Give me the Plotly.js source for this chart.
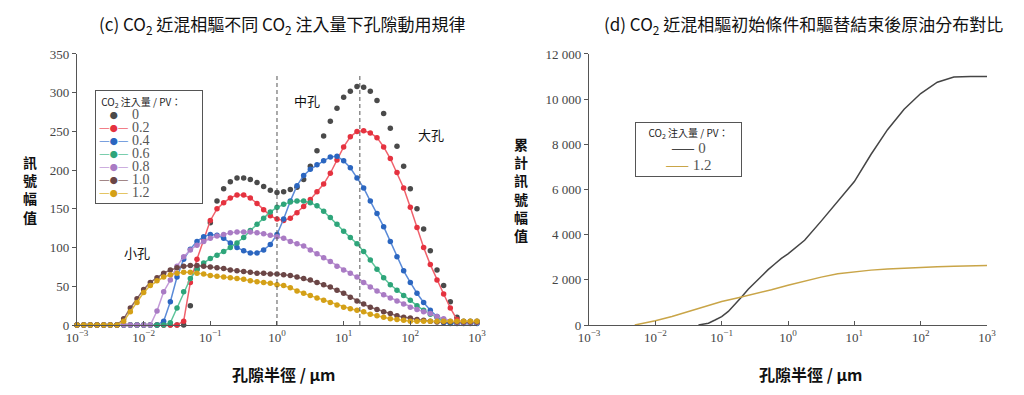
<!DOCTYPE html>
<html>
<head>
<meta charset="utf-8">
<script src="https://cdn.plot.ly/plotly-3.0.1.min.js"></script>
<style>html,body{margin:0;padding:0;background:#fff;}#chart{width:1024px;height:395px;}</style>
</head>
<body>
<div id="chart"></div>
<script>
// ---------- DATA ----------
// Panel (c): pore radius exponents (log10 of radius in µm)
const radiusExp = [-3.0,-2.9,-2.8,-2.7,-2.6,-2.5,-2.4,-2.3,-2.2,-2.1,-2.0,-1.9,-1.8,-1.7,-1.6,-1.5,-1.4,-1.3,-1.2,-1.1,
  -1.0,-0.9,-0.8,-0.7,-0.6,-0.5,-0.4,-0.3,-0.2,-0.1,0.0,0.1,0.2,0.3,0.4,0.5,0.6,0.7,0.8,0.9,
  1.0,1.1,1.2,1.3,1.4,1.5,1.6,1.7,1.8,1.9,2.0,2.1,2.2,2.3,2.4,2.5,2.6,2.7,2.8,2.9,3.0];

const injectionLabels = ['0','0.2','0.4','0.6','0.8','1.0','1.2'];

const signal_0 = [0,0,0,0,0,0,0,0,0,0,0,0,0,0,0,0,0,
  25,72,110,132,160,176,185,190,190,188,184,179,174,171,172,175,178,188,205,225,244,263,280,294,302,308,307,302,290,273,254,231,205,176,150,124,96,71,51,30,10,5,5,5];
const signal_02 = [0,0,0,0,0,0,0,0,0,0,0,0,0,0,0,0,
  5,55,85,110,135,150,158,164,168,168,164,157,149,141,137,135,138,145,153,162,172,182,196,213,230,243,250,251,248,242,230,215,197,177,152,126,100,78,58,40,22,7,3,3,3];
const signal_04 = [0,0,0,0,0,0,0,0,0,0,0,0,0,
  5,30,62,85,98,108,114,117,116,112,106,100,96,93,93,97,104,117,137,160,180,193,201,207,212,217,218,212,203,190,177,160,144,127,108,88,70,55,41,29,19,11,3,2,2,2,2,2];
const signal_06 = [0,0,0,0,0,0,0,0,0,0,0,0,0,0,
  3,22,43,60,72,80,86,90,95,100,106,113,122,130,138,146,152,156,159,160,160,158,154,147,139,130,121,113,105,95,84,72,61,52,45,38,32,25,19,14,10,6,4,3,3,3,3];
const signal_08 = [0,0,0,0,0,0,0,0,0,0,0,0,
  18,43,58,76,88,97,103,108,112,115,117,119,120,120,120,119,118,116,114,112,108,105,102,97,92,87,82,76,71,67,62,55,49,44,39,35,31,27,23,20,17,15,11,8,5,3,3,3,3];
const signal_10 = [0,0,0,0,0,0,0,
  8,22,34,46,55,61,67,71,74,76,77,77,76,75,74,73,71,70,69,68,67,67,66,66,65,64,62,60,58,55,52,49,45,41,36,31,27,23,20,17,15,12,10,9,7,6,5,4,4,4,4,4,4,4];
const signal_12 = [0,0,0,0,0,0,0,
  5,17,29,42,51,57,62,65,67,68,68,67,66,64,63,62,61,60,59,57,56,55,54,52,51,48,44,41,38,35,32,29,26,23,21,19,17,14,12,10,8,7,6,5,5,5,5,5,5,5,5,5,5,5];

const boundaryRadii = [1, 17.5];           // dashed boundaries (µm)
const poreLabels = ['小孔','中孔','大孔'];

// Panel (d): cumulative signal
const cumExp_0 = [-1.35,-1.2,-1.1,-1.0,-0.9,-0.8,-0.7,-0.6,-0.5,-0.4,-0.3,-0.2,-0.1,0.0,0.25,0.5,0.75,1.0,1.25,1.5,1.75,2.0,2.25,2.5,2.75,3.0];
const cum_0 = [0,80,220,370,600,900,1240,1580,1880,2170,2450,2700,2950,3150,3750,4600,5500,6350,7550,8650,9550,10250,10750,10980,11000,11000];
const cumExp_12 = [-2.31,-2.0,-1.75,-1.5,-1.25,-1.0,-0.75,-0.5,-0.25,0.0,0.25,0.5,0.75,1.0,1.25,1.5,1.75,2.0,2.25,2.5,2.75,3.0];
const cum_12 = [0,190,380,600,810,1040,1210,1380,1560,1760,1950,2120,2270,2360,2430,2480,2520,2550,2580,2600,2615,2630];
const cumLabels = ['0','1.2'];

// Tick labels
const xTickVals = [0.001, 0.01, 0.1, 1, 10, 100, 1000];
const xTickText = ['10<sup>−3</sup>','10<sup>−2</sup>','10<sup>−1</sup>','10<sup>0</sup>','10<sup>1</sup>','10<sup>2</sup>','10<sup>3</sup>'];

// ---------- STYLE ----------
const markerColors = ['#4a4a4a','#e5323f','#2b66c0','#2ea57a','#a97bc4','#6b4646','#d4a017'];
const lineColors   = ['#4a4a4a','#f0616c','#5b8bd8','#5cc49a','#c39bd8','#8d6b6b','#e0b840'];
const cumColors    = ['#454545','#c9a548'];
const series = [signal_0, signal_02, signal_04, signal_06, signal_08, signal_10, signal_12];
const radii = radiusExp.map(e => Math.pow(10, e));

const traces = series.map((ys, i) => ({
  x: radii, y: ys, xaxis: 'x', yaxis: 'y',
  name: injectionLabels[i], showlegend: false,
  mode: i === 0 ? 'markers' : 'lines+markers',
  cliponaxis: false,
  line: {color: lineColors[i], width: 1.5},
  marker: {color: markerColors[i], size: 5.5}
}));

traces.push({
  x: cumExp_0.map(e => Math.pow(10, e)), y: cum_0, xaxis: 'x2', yaxis: 'y2', showlegend: false,
  name: cumLabels[0], mode: 'lines', line: {color: cumColors[0], width: 1.5}
});
traces.push({
  x: cumExp_12.map(e => Math.pow(10, e)), y: cum_12, xaxis: 'x2', yaxis: 'y2', showlegend: false,
  name: cumLabels[1], mode: 'lines', line: {color: cumColors[1], width: 1.5}
});

const serif = 'Liberation Serif, Times New Roman, serif';
const cjk = 'Noto Sans CJK TC, Noto Sans, sans-serif';
const tickFont = {family: serif, size: 13, color: '#444'};

const xBase = {
  type: 'log', range: [-3, 3], tickmode: 'array', tickvals: xTickVals, ticktext: xTickText,
  showline: true, linecolor: '#555', linewidth: 1.2, mirror: false,
  ticks: 'inside', ticklen: 4, tickcolor: '#555', tickwidth: 1,
  showgrid: false, zeroline: false, tickfont: tickFont, fixedrange: true
};
const yBase = {
  showline: true, linecolor: '#555', linewidth: 1.2,
  ticks: 'outside', ticklen: 4, tickcolor: '#555', tickwidth: 1,
  showgrid: false, zeroline: false, tickfont: tickFont, fixedrange: true
};

// compact legends, built from the series labels/colours
const legendTitle = 'CO<sub>2</sub> 注入量 / PV：';
const legendRows = injectionLabels.map((lab, i) => {
  const dashCol = i === 0 ? '#ffffff' : lineColors[i];
  return '<span style="font-size:12px;color:' + dashCol + '">—</span>' +
         '<span style="font-size:8px;color:' + markerColors[i] + '">●</span>' +
         '<span style="font-size:12px;color:' + dashCol + '">—</span>' +
         '<span style="font-family:Liberation Serif;font-size:14px;color:#555"> ' + lab + '</span>';
});
const legendText = '<span style="color:#222"> ' + legendTitle + '</span><br>' + legendRows.join('<br>');

const cumRows = cumLabels.map((lab, i) =>
  '<span style="font-size:14px;color:' + cumColors[i] + '">——</span>' +
  '<span style="font-family:Liberation Serif;font-size:15px;color:#555"> ' + lab + '</span>');
const cumLegendText = '<span style="font-size:10px;color:#222">' + legendTitle + '</span><br>' + cumRows.join('<br>');

const layout = {
  width: 1024, height: 395,
  margin: {l: 0, r: 0, t: 0, b: 0},
  paper_bgcolor: '#fff', plot_bgcolor: '#fff',
  separators: '. ',
  showlegend: false,
  xaxis: Object.assign({}, xBase, {domain: [0.0752, 0.4658], anchor: 'y'}),
  yaxis: Object.assign({}, yBase, {domain: [0.1772, 0.8633], anchor: 'x', range: [0, 350], dtick: 50}),
  xaxis2: Object.assign({}, xBase, {domain: [0.5752, 0.9639], anchor: 'y2'}),
  yaxis2: Object.assign({}, yBase, {domain: [0.1772, 0.8633], anchor: 'x2', range: [0, 12000], dtick: 2000, tickformat: ',d'}),
  shapes: boundaryRadii.map(r => ({
    type: 'line', xref: 'x', yref: 'y', x0: r, x1: r, y0: 0, y1: 325,
    line: {color: '#555', width: 1, dash: '4px,3px'}
  })),
  annotations: [
    {xref: 'paper', yref: 'paper', x: 0.2755, y: 0.937, xanchor: 'center', yanchor: 'middle',
     text: '(c) CO<sub>2</sub> 近混相驅不同 CO<sub>2</sub> 注入量下孔隙動用規律',
     showarrow: false, font: {family: cjk, size: 17, color: '#111'}},
    {xref: 'paper', yref: 'paper', x: 0.785, y: 0.937, xanchor: 'center', yanchor: 'middle',
     text: '(d) CO<sub>2</sub> 近混相驅初始條件和驅替結束後原油分布對比',
     showarrow: false, font: {family: cjk, size: 17, color: '#111'}},
    {xref: 'paper', yref: 'paper', x: 0.2773, y: 0.053, xanchor: 'center', yanchor: 'middle',
     text: '<b>孔隙半徑 / μm</b>', showarrow: false, font: {family: cjk, size: 16, color: '#111'}},
    {xref: 'paper', yref: 'paper', x: 0.792, y: 0.053, xanchor: 'center', yanchor: 'middle',
     text: '<b>孔隙半徑 / μm</b>', showarrow: false, font: {family: cjk, size: 16, color: '#111'}},
    {xref: 'paper', yref: 'paper', x: 0.0293, y: 0.519, xanchor: 'center', yanchor: 'middle',
     text: '<b>訊<br>號<br>幅<br>值</b>', showarrow: false, font: {family: cjk, size: 14, color: '#111'}},
    {xref: 'paper', yref: 'paper', x: 0.509, y: 0.519, xanchor: 'center', yanchor: 'middle',
     text: '<b>累<br>計<br>訊<br>號<br>幅<br>值</b>', showarrow: false, font: {family: cjk, size: 14, color: '#111'}},
    {xref: 'x', yref: 'y', x: -2.1, y: 94, text: poreLabels[0], showarrow: false, font: {family: cjk, size: 13, color: '#111'}},
    {xref: 'x', yref: 'y', x: 0.45, y: 290, text: poreLabels[1], showarrow: false, font: {family: cjk, size: 13, color: '#111'}},
    {xref: 'x', yref: 'y', x: 2.31, y: 246, text: poreLabels[2], showarrow: false, font: {family: cjk, size: 13, color: '#111'}},
    {xref: 'paper', yref: 'paper', x: 0.0928, y: 0.772, xanchor: 'left', yanchor: 'top', align: 'left',
     text: legendText, showarrow: false, width: 100, borderpad: 3,
     bordercolor: '#555', borderwidth: 1, bgcolor: '#fff',
     font: {family: cjk, size: 10, color: '#222'}},
    {xref: 'paper', yref: 'paper', x: 0.620, y: 0.691, xanchor: 'left', yanchor: 'top', align: 'center',
     text: cumLegendText, showarrow: false, width: 101, borderpad: 2,
     bordercolor: '#555', borderwidth: 1, bgcolor: '#fff',
     font: {family: cjk, size: 12.5, color: '#222'}}
  ]
};

Plotly.newPlot('chart', traces, layout, {displayModeBar: false, staticPlot: true});
</script>
</body>
</html>
